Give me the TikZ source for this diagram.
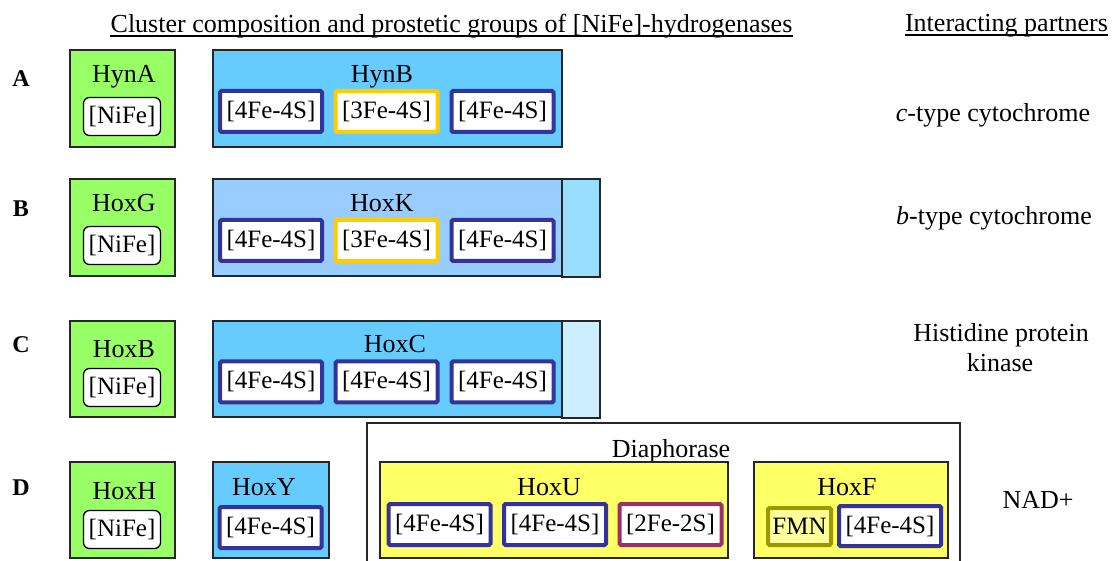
\documentclass[tikz,border=0pt]{standalone}
\usepackage{fontspec}
\setmainfont{Liberation Serif}
\usetikzlibrary{positioning}
\definecolor{subgreen}{HTML}{99FF66}
\definecolor{subblue}{HTML}{66CCFF}
\definecolor{subpale}{HTML}{99CCFF}
\definecolor{membblue}{HTML}{99DDFF}
\definecolor{membpale}{HTML}{CCEEFF}
\definecolor{diayellow}{HTML}{FFFF66}
\definecolor{fmnfill}{HTML}{FFFF99}
\definecolor{fmnolive}{HTML}{999900}
\definecolor{fsnavy}{HTML}{333399}
\definecolor{fsgold}{HTML}{FFCC00}
\definecolor{fsplum}{HTML}{993366}

\tikzset{
  unit/.style={draw=black!85, line width=1.3pt},
  txt/.style={anchor=base, inner sep=0pt, font=\fontsize{26}{30}\selectfont},
  rowtag/.style={anchor=base, inner sep=0pt, font=\fontsize{24}{28}\selectfont\bfseries},
  cluster/.style={fill=white, line width=4pt, rounded corners=1.5pt, minimum width=102pt,
    minimum height=41pt, inner sep=0pt, font=\fontsize{25}{30}\selectfont},
  fourfe/.style={cluster, draw=fsnavy},
  threefe/.style={cluster, draw=fsgold},
  twofe/.style={cluster, draw=fsplum},
  fmnbox/.style={cluster, draw=fmnolive, fill=fmnfill, minimum width=63pt, minimum height=37pt},
  nife/.style={draw=black, fill=white, line width=1.3pt, rounded corners=6pt, minimum width=77pt,
    minimum height=38pt, inner sep=0pt, font=\fontsize{25}{30}\selectfont},
}

\begin{document}
\begin{tikzpicture}[x=1pt,y=-1pt]
\useasboundingbox (0,0) rectangle (1112,561);
% headings
\node[txt] (head) at (451.5,33) {Cluster composition and prostetic groups of [NiFe]-hydrogenases};
\node[txt] (partners) at (1006.5,32) {Interacting partners};
\draw[line width=1.2pt] ([yshift=-3pt]head.base west) -- ([yshift=-3pt]head.base east);
\draw[line width=1.2pt] ([yshift=-3pt]partners.base west) -- ([yshift=-3pt]partners.base east);

% row A
\node[rowtag] (tagA) at (21,87) {A};
\draw[unit, fill=subgreen] (70,50) rectangle (175,147);
\node[txt] (hynA) at (124,83) {HynA};
\node[nife] (nifeA) at (122,116.5) {[NiFe]};
\draw[unit, fill=subblue] (213,50) rectangle (562,147);
\node[txt] (hynB) at (382,83) {HynB};
\node[fourfe] (a1) at (271,111.5) {[4Fe-4S]};
\node[threefe] (a2) at (386.5,111.5) {[3Fe-4S]};
\node[fourfe] (a3) at (502.5,111.5) {[4Fe-4S]};
\node[txt] (partA) at (993,122) {\textit{c}-type cytochrome};

% row B
\node[rowtag] (tagB) at (21,217) {B};
\draw[unit, fill=subgreen] (70,179) rectangle (175,276);
\node[txt] (hoxG) at (124,212) {HoxG};
\node[nife] (nifeB) at (122,245.5) {[NiFe]};
\draw[unit, fill=subpale] (213,179) rectangle (562,276);
\draw[unit, fill=membblue] (562,179) rectangle (600,277);
\node[txt] (hoxK) at (382,212) {HoxK};
\node[fourfe] (b1) at (271,240.5) {[4Fe-4S]};
\node[threefe] (b2) at (386.5,240.5) {[3Fe-4S]};
\node[fourfe] (b3) at (502.5,240.5) {[4Fe-4S]};
\node[txt] (partB) at (994,225) {\textit{b}-type cytochrome};

% row C
\node[rowtag] (tagC) at (21,353) {C};
\draw[unit, fill=subgreen] (70,321) rectangle (175,417);
\node[txt] (hoxB) at (124,358) {HoxB};
\node[nife] (nifeC) at (122,387.5) {[NiFe]};
\draw[unit, fill=subblue] (213,321) rectangle (562,417);
\draw[unit, fill=membpale] (562,321) rectangle (600,418);
\node[txt] (hoxC) at (395,353) {HoxC};
\node[fourfe] (c1) at (271,382) {[4Fe-4S]};
\node[fourfe] (c2) at (386.5,382) {[4Fe-4S]};
\node[fourfe] (c3) at (502.5,382) {[4Fe-4S]};
\node[txt] (partC1) at (1001,342) {Histidine protein};
\node[txt] (partC2) at (1000,372) {kinase};

% row D
\node[rowtag] (tagD) at (21,495) {D};
\draw[unit, fill=subgreen] (70,462) rectangle (175,558);
\node[txt] (hoxH) at (124.5,499) {HoxH};
\node[nife] (nifeD) at (122,529.5) {[NiFe]};
\draw[unit, fill=subblue] (213,462) rectangle (329,558);
\node[txt] (hoxY) at (264,495) {HoxY};
\node[fourfe] (y1) at (270.5,527.5) {[4Fe-4S]};
% diaphorase
\draw[unit] (367,570) -- (367,423) -- (960,423) -- (960,570);
\node[txt] (dia) at (671,457) {Diaphorase};
\draw[unit, fill=diayellow] (380,462) rectangle (728,558);
\node[txt] (hoxU) at (549,495) {HoxU};
\node[fourfe] (u1) at (439.5,524.5) {[4Fe-4S]};
\node[fourfe] (u2) at (555,524.5) {[4Fe-4S]};
\node[twofe] (u3) at (670.5,524.5) {[2Fe-2S]};
\draw[unit, fill=diayellow] (754,462) rectangle (948,558);
\node[txt] (hoxF) at (847,495) {HoxF};
\node[fmnbox] (fmn) at (799.5,526.5) {FMN};
\node[fourfe, minimum height=40pt] (f1) at (890,526) {[4Fe-4S]};
\node[txt] (partD) at (1038,508) {NAD+};
\end{tikzpicture}
\end{document}
